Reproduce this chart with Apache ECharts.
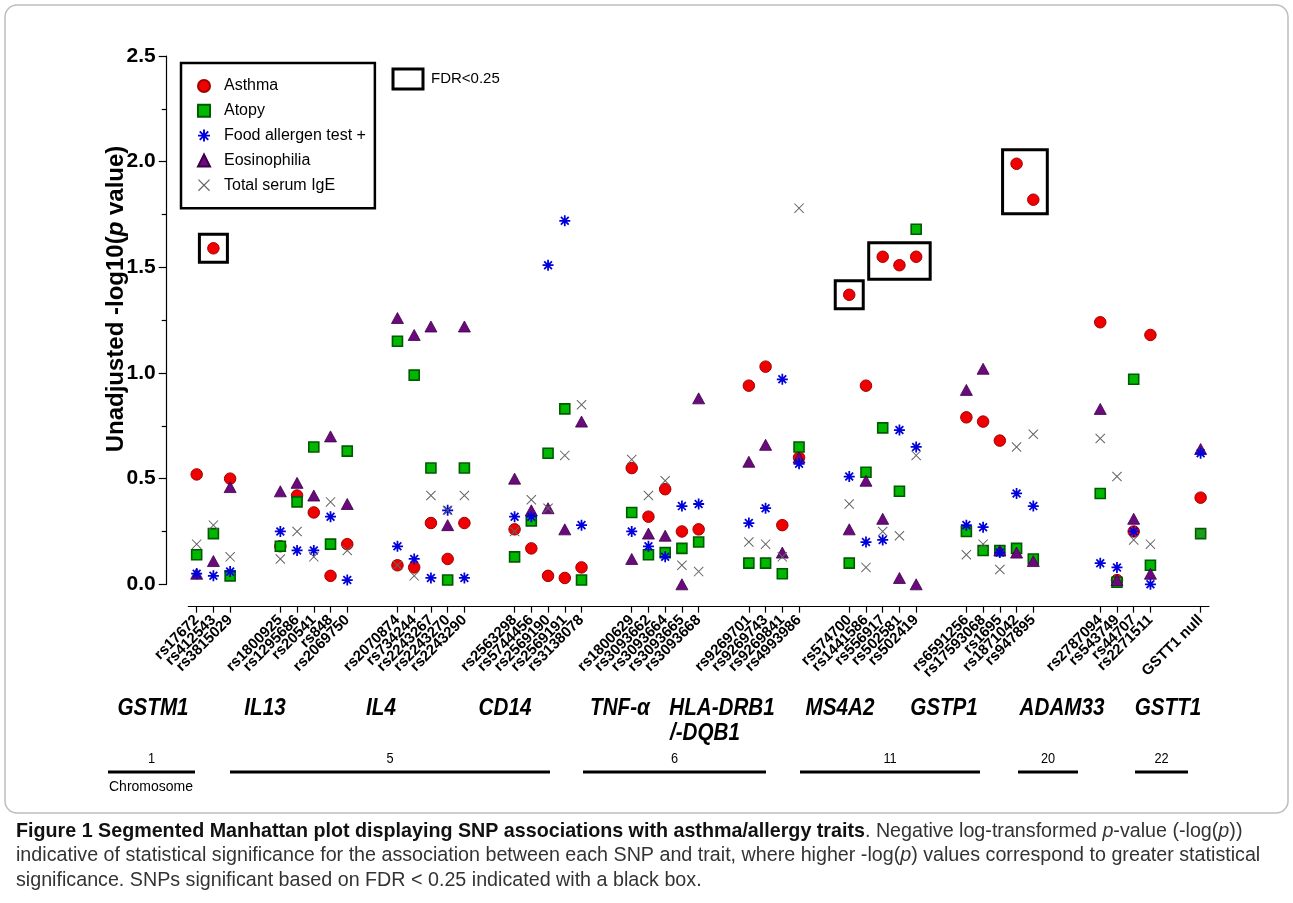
<!DOCTYPE html>
<html>
<head>
<meta charset="utf-8">
<script src="https://cdn.jsdelivr.net/npm/echarts@6/dist/echarts.min.js"></script>
<style>
html,body{margin:0;padding:0;background:#fff;}
#chart{width:1293px;height:903px;}
</style>
</head>
<body>
<div id="chart"></div>
<script>
// ---- DATA ----
// x categories (SNPs) with '' as spacer slots between genes
const categories = ['rs17672','rs412543','rs3815029','','',
  'rs1800925','rs1295686','rs20541','rs848','rs2069750','','',
  'rs2070874','rs734244','rs2243267','rs2243270','rs2243290','','',
  'rs2563298','rs5744456','rs2569190','rs2569191','rs3138078','','',
  'rs1800629','rs3093662','rs3093664','rs3093665','rs3093668','','',
  'rs9269701','rs9269743','rs9269841','rs4993986','','',
  'rs574700','rs1441586','rs556917','rs502581','rs502419','','',
  'rs6591256','rs17593068','rs1695','rs1871042','rs947895','','','',
  'rs2787094','rs543749','rs44707','rs2271511','','',
  'GSTT1 null'];

// values (-log10 p) per SNP, in the order of the non-empty categories
const asthma = [0.52,1.59,0.50, 0.18,0.42,0.34,0.04,0.19, 0.09,0.08,0.29,0.12,0.29,
  0.26,0.17,0.04,0.03,0.08, 0.55,0.32,0.45,0.25,0.26, 0.94,1.03,0.28,0.60,
  1.37,0.94,1.55,1.51,1.55, 0.79,0.77,0.68,1.99,1.82, 1.24,0.02,0.25,1.18, 0.41];
const atopy = [0.14,0.24,0.04, 0.18,0.39,0.65,0.19,0.63, 1.15,0.99,0.55,0.02,0.55,
  0.13,0.30,0.62,0.83,0.02, 0.34,0.14,0.15,0.17,0.20, 0.10,0.10,0.05,0.65,
  0.10,0.53,0.74,0.44,1.68, 0.25,0.16,0.16,0.17,0.12, 0.43,0.01,0.97,0.09, 0.24];
const foodAllergen = [0.05,0.04,0.06, 0.25,0.16,0.16,0.32,0.02, 0.18,0.12,0.03,0.35,0.03,
  0.32,0.32,1.51,1.72,0.28, 0.25,0.18,0.13,0.37,0.38, 0.29,0.36,0.97,0.57,
  0.51,0.20,0.21,0.73,0.65, 0.28,0.27,0.15,0.43,0.37, 0.10,0.08,0.25,0.00, 0.62];
const eosinophilia = [0.05,0.11,0.46, 0.44,0.48,0.42,0.70,0.38, 1.26,1.18,1.22,0.28,1.22,
  0.50,0.35,0.36,0.26,0.77, 0.12,0.24,0.23,0.00,0.88, 0.58,0.66,0.15,0.60,
  0.26,0.49,0.31,0.03,0.00, 0.92,1.02,0.16,0.15,0.11, 0.83,0.02,0.31,0.05, 0.64];
const totalIgE = [0.19,0.28,0.13, 0.12,0.25,0.13,0.39,0.16, 0.09,0.04,0.42,0.35,0.42,
  0.25,0.40,0.36,0.61,0.85, 0.59,0.42,0.49,0.09,0.06, 0.20,0.19,0.13,1.78,
  0.38,0.08,0.25,0.23,0.61, 0.14,0.19,0.07,0.65,0.71, 0.69,0.51,0.21,0.19, 0.24];

// SNPs significant at FDR < 0.25 (asthma), boxed together
const fdrGroups = [['rs412543'], ['rs574700'], ['rs556917','rs502581','rs502419'], ['rs1871042','rs947895']];

const genes = ['GSTM1','IL13','IL4','CD14','TNF-α','HLA-DRB1\n/-DQB1','MS4A2','GSTP1','ADAM33','GSTT1'];
const chromosomes = ['1','5','6','11','20','22'];
const seriesNames = ['Asthma','Atopy','Food allergen test +','Eosinophilia','Total serum IgE'];

// ---- helpers ----
const snpIndex = [];
categories.forEach((c, i) => { if (c !== '') snpIndex.push(i); });
function toData(vals) { return vals.map((v, k) => [snpIndex[k], v]); }
function catIdx(name) { return categories.indexOf(name); }
function asthmaOf(name) { return asthma[snpIndex.indexOf(catIdx(name))]; }

const asteriskPath = 'path://M-10 -1.6L10 -1.6L10 1.6L-10 1.6Z M-1.6 -10L1.6 -10L1.6 10L-1.6 10Z M-5.94 -8.2L8.2 5.94L5.94 8.2L-8.2 -5.94Z M8.2 -5.94L-5.94 8.2L-8.2 5.94L5.94 -8.2Z';
const crossPath = 'path://M-8.6 -10L10 8.6L8.6 10L-10 -8.6Z M8.6 -10L10 -8.6L-8.6 10L-10 8.6Z';

const chart = echarts.init(document.getElementById('chart'), null, {renderer: 'canvas'});
const tickFn = (i, v) => v !== '';

const FONT = 'Liberation Sans, Arial, sans-serif';
const NARROW = 'Liberation Sans Narrow, Liberation Sans, Arial, sans-serif';
const geneX = [153, 265, 381, 505, 620, 722, 840, 944, 1062, 1168];
const chromBars = [[108,195],[230,550],[583,766],[800,980],[1018,1078],[1135,1188]];

const graphics = [
  {type:'rect', shape:{x:5, y:5, width:1283, height:808, r:12}, style:{fill:'none', stroke:'#bdbdbd', lineWidth:1.5}, z:-1},
  {type:'text', x:116, y:299, rotation:Math.PI/2, style:{text:'{t|Unadjusted -log10(}{i|p}{t| value)}', align:'center', verticalAlign:'middle',
    rich:{t:{fontSize:24, fontWeight:'bold', fontFamily:FONT, fill:'#000'}, i:{fontSize:24, fontWeight:'bold', fontStyle:'italic', fontFamily:FONT, fill:'#000'}}}},
  {type:'rect', shape:{x:393, y:69, width:30, height:20}, style:{fill:'none', stroke:'#000', lineWidth:3}},
  {type:'text', x:431, y:79, style:{text:'FDR<0.25', fontSize:15, fontFamily:FONT, fill:'#000', verticalAlign:'middle'}},
  {type:'text', x:151, y:787, style:{text:'Chromosome', fontSize:14, fontFamily:NARROW, fill:'#000', align:'center', verticalAlign:'middle'}},
  {type:'text', x:16, y:819, style:{
    text:'{b|Figure 1 Segmented Manhattan plot displaying SNP associations with asthma/allergy traits}{n|. Negative log-transformed }{i|p}{n|-value (-log(}{i|p}{n|))}\n{n|indicative of statistical significance for the association between each SNP and trait, where higher -log(}{i|p}{n|) values correspond to greater statistical}\n{n|significance. SNPs significant based on FDR < 0.25 indicated with a black box.}',
    rich:{
      b:{fontSize:19.7, fontWeight:'bold', fontFamily:FONT, fill:'#111', lineHeight:24.5},
      n:{fontSize:19.7, fontFamily:FONT, fill:'#333', lineHeight:24.5},
      i:{fontSize:19.7, fontStyle:'italic', fontFamily:FONT, fill:'#333', lineHeight:24.5}
    }}}
];
genes.forEach((g, k) => {
  const lines = g.split('\n');
  graphics.push({type:'text', x:geneX[k], y:708, scaleX:0.86, style:{text:lines[0], fontSize:24, fontWeight:'bold', fontStyle:'italic',
    fontFamily:NARROW, fill:'#000', align:'center', verticalAlign:'middle'}});
  if (lines[1]) graphics.push({type:'text', x:670, y:733, scaleX:0.86, style:{text:lines[1], fontSize:24, fontWeight:'bold', fontStyle:'italic',
    fontFamily:NARROW, fill:'#000', align:'left', verticalAlign:'middle'}});
});
chromosomes.forEach((c, k) => {
  const b = chromBars[k];
  graphics.push({type:'line', shape:{x1:b[0], y1:772, x2:b[1], y2:772}, style:{stroke:'#000', lineWidth:3}});
  graphics.push({type:'text', x:(b[0]+b[1])/2, y:759, scaleX:0.85, style:{text:c, fontSize:15, fontFamily:NARROW, fill:'#000', align:'center', verticalAlign:'middle'}});
});

const option = {
  backgroundColor: '#fff',
  animation: false,
  grid: {left: 188.3, right: 84, top: 56, bottom: 318.7, containLabel: false},
  legend: {
    orient: 'vertical', left: 181, top: 63,
    data: seriesNames,
    padding: [15, 9, 15, 16],
    itemGap: 8.8, itemWidth: 12, itemHeight: 12,
    borderColor: '#000', borderWidth: 2.5,
    textStyle: {fontSize: 16, fontFamily: FONT, color: '#000', padding: [0,0,0,9]}
  },
  xAxis: {
    type: 'category', data: categories, boundaryGap: true, offset: 22.4,
    axisLine: {onZero: false, lineStyle: {color: '#000', width: 1.2}},
    axisTick: {show: true, alignWithLabel: true, interval: tickFn, length: 6, lineStyle: {color: '#000', width: 1.2}},
    axisLabel: {interval: 0, hideOverlap: false, rotate: 45,
      fontSize: 15, fontWeight: 'bold', fontFamily: FONT, color: '#000', margin: 11},
    splitLine: {show: false}
  },
  yAxis: {
    type: 'value', min: 0, max: 2.5, interval: 0.5, offset: 21.6,
    axisLine: {show: true, onZero: false, lineStyle: {color: '#000', width: 1.2}},
    axisTick: {show: true, length: 8, lineStyle: {color: '#000', width: 1.2}},
    minorTick: {show: true, splitNumber: 2, length: 5, lineStyle: {color: '#000', width: 1.2}},
    splitLine: {show: false},
    axisLabel: {fontSize: 21, fontWeight: 'bold', fontFamily: FONT, color: '#000', margin: 11, formatter: v => v.toFixed(1)}
  },
  series: [
    {name: 'Asthma', type: 'scatter', z: 2, clip: false, symbol: 'circle', symbolSize: 11.5,
      itemStyle: {color: '#f00000', borderColor: '#a00000', borderWidth: 1, opacity: 1}, data: toData(asthma)},
    {name: 'Atopy', type: 'scatter', z: 3, clip: false, symbol: 'rect', symbolSize: 10,
      itemStyle: {color: '#00b800', borderColor: '#005a00', borderWidth: 1.6, opacity: 1}, data: toData(atopy)},
    {name: 'Food allergen test +', type: 'scatter', z: 5, clip: false, symbol: asteriskPath, symbolSize: 11,
      itemStyle: {color: '#0000dd', opacity: 1}, data: toData(foodAllergen)},
    {name: 'Eosinophilia', type: 'scatter', z: 4, clip: false, symbol: 'triangle', symbolSize: [12, 11],
      itemStyle: {color: '#6a0a7c', borderColor: '#3c0048', borderWidth: 0.8, opacity: 1}, data: toData(eosinophilia)},
    {name: 'Total serum IgE', type: 'scatter', z: 6, clip: false, symbol: crossPath, symbolSize: 10,
      itemStyle: {color: '#646464', opacity: 1}, data: toData(totalIgE)},
    {name: 'FDR<0.25', type: 'custom', z: 7, silent: true,
      data: fdrGroups.map(g => [catIdx(g[0]), asthmaOf(g[0])]),
      encode: {x: 0, y: 1},
      renderItem: function (params, api) {
        const g = fdrGroups[params.dataIndex];
        const pts = g.map(n => api.coord([catIdx(n), asthmaOf(n)]));
        const xs = pts.map(p => p[0]), ys = pts.map(p => p[1]);
        const pad = 14;
        const x0 = Math.min(...xs) - pad, x1 = Math.max(...xs) + pad;
        const y0 = Math.min(...ys) - pad, y1 = Math.max(...ys) + pad;
        return {type: 'rect', shape: {x: x0, y: y0, width: x1 - x0, height: y1 - y0},
          style: {fill: 'none', stroke: '#000', lineWidth: 3}};
      }}
  ],
  graphic: graphics
};
chart.setOption(option);
</script>
</body>
</html>
